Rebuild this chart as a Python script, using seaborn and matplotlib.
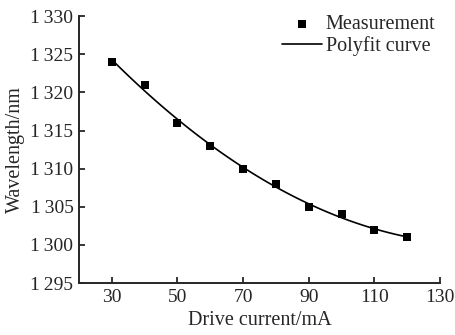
import numpy as np
import pandas as pd
import matplotlib
matplotlib.use("Agg")
import matplotlib.pyplot as plt
import matplotlib.ticker as mticker
import seaborn as sns

sns.set_style("ticks")
plt.rcParams['font.family'] = ['Liberation Serif', 'DejaVu Serif']

# measured data
current = [30, 40, 50, 60, 70, 80, 90, 100, 110, 120]
wavelength = [1324, 1321, 1316, 1313, 1310, 1308, 1305, 1304, 1302, 1301]
x_ticks = [30, 50, 70, 90, 110, 130]
y_ticks = [1295, 1300, 1305, 1310, 1315, 1320, 1325, 1330]

df = pd.DataFrame({"current": current, "wavelength": wavelength})

fig = plt.figure(figsize=(4.55, 3.35), dpi=100)
ax = fig.add_axes([0.1736, 0.155, 0.7934, 0.797])

# polyfit curve (2nd order) computed by seaborn
sns.regplot(data=df, x="current", y="wavelength", order=2, ci=None, scatter=False,
            line_kws={"color": "black", "lw": 1.2}, ax=ax, label="Polyfit curve")
sns.scatterplot(data=df, x="current", y="wavelength", marker="s", s=40, color="black",
                edgecolor="black", linewidth=0, ax=ax, label="Measurement", zorder=3)

ax.set_xlim(20, 130)
ax.set_ylim(1295, 1330)
ax.set_xticks(x_ticks)
ax.set_yticks(y_ticks)
ax.yaxis.set_major_formatter(mticker.FuncFormatter(lambda v, p: f"{int(v):,}".replace(",", "\u2009")))
ax.tick_params(direction="in", length=4, width=1.3, labelsize=14, pad=4)
for s in ["top", "right"]:
    ax.spines[s].set_visible(False)
for s in ["left", "bottom"]:
    ax.spines[s].set_linewidth(1.4)

ax.set_xlabel("Drive current/mA", fontsize=14.5, labelpad=4)
ax.set_ylabel("Wavelength/nm", fontsize=14.5, labelpad=4)

h, l = ax.get_legend_handles_labels()
order = [l.index("Measurement"), l.index("Polyfit curve")]
ax.legend([h[i] for i in order], [l[i] for i in order], loc="upper right", frameon=False,
          fontsize=14.5, handlelength=2.0, handletextpad=0.2, borderaxespad=0.0,
          labelspacing=0.1, bbox_to_anchor=(1.01, 1.035))

fig.savefig("out.png", dpi=100)
